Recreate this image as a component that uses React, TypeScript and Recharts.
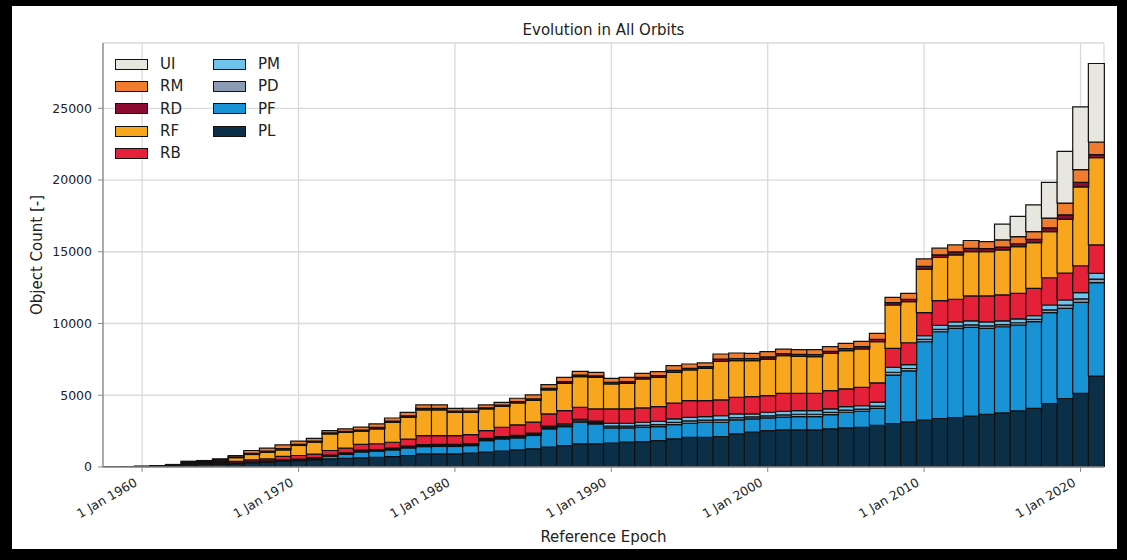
import React from "react";
import { BarChart, Bar, XAxis, YAxis, CartesianGrid, Legend } from "recharts";

// one bar per year, 1958 .. 2021
const years = [
  1958, 1959, 1960, 1961, 1962, 1963, 1964, 1965, 1966, 1967, 1968, 1969, 1970, 1971, 1972, 1973,
  1974, 1975, 1976, 1977, 1978, 1979, 1980, 1981, 1982, 1983, 1984, 1985, 1986, 1987, 1988, 1989,
  1990, 1991, 1992, 1993, 1994, 1995, 1996, 1997, 1998, 1999, 2000, 2001, 2002, 2003, 2004, 2005,
  2006, 2007, 2008, 2009, 2010, 2011, 2012, 2013, 2014, 2015, 2016, 2017, 2018, 2019, 2020, 2021,
];

const PL = [
  2, 6, 18, 40, 70, 170, 180, 200, 230, 300, 350, 400, 450, 500, 570, 600,
  640, 680, 730, 800, 916, 920, 920, 963, 1030, 1100, 1195, 1265, 1380, 1495, 1610, 1610,
  1660, 1730, 1775, 1845, 1960, 2075, 2075, 2125, 2310, 2425, 2540, 2585, 2585, 2590, 2655, 2725,
  2770, 2910, 3030, 3140, 3260, 3380, 3450, 3540, 3665, 3770, 3910, 4080, 4425, 4775, 5135, 6335,
];
const PF = [
  0, 0, 0, 0, 10, 10, 15, 10, 10, 10, 20, 30, 40, 80, 180, 280,
  410, 420, 465, 530, 510, 510, 510, 530, 810, 860, 835, 930, 1275, 1325, 1510, 1390,
  1065, 1000, 1000, 975, 1000, 975, 1045, 995, 975, 930, 880, 885, 930, 925, 1000, 1090,
  1115, 1170, 3375, 3565, 5470, 6045, 6215, 6195, 6000, 6005, 5985, 6045, 6330, 6285, 6335, 6515,
];
const PD = [
  0, 0, 2, 5, 10, 60, 80, 60, 30, 30, 30, 30, 30, 30, 40, 50,
  60, 60, 60, 60, 70, 70, 70, 70, 70, 80, 80, 80, 90, 90, 90, 90,
  120, 120, 130, 140, 150, 160, 150, 170, 160, 140, 150, 160, 160, 160, 150, 150,
  150, 160, 200, 160, 160, 170, 170, 170, 170, 150, 160, 160, 200, 220, 250, 250,
];
const PM = [
  0, 0, 2, 3, 5, 10, 10, 20, 20, 20, 20, 30, 30, 30, 40, 50,
  60, 60, 60, 60, 70, 70, 70, 70, 80, 80, 90, 90, 100, 100, 110, 110,
  200, 200, 215, 230, 245, 255, 245, 295, 255, 205, 245, 255, 255, 255, 245, 245,
  245, 280, 340, 265, 260, 285, 285, 285, 285, 265, 270, 265, 335, 360, 430, 400,
];
const RB = [
  1, 3, 10, 20, 40, 50, 60, 90, 100, 140, 150, 250, 250, 260, 320, 330,
  400, 400, 410, 500, 625, 620, 620, 630, 550, 650, 735, 760, 855, 920, 845, 845,
  1000, 1000, 1000, 1020, 1090, 1160, 1115, 1090, 1160, 1205, 1160, 1250, 1205, 1210, 1275, 1230,
  1275, 1345, 1320, 1530, 1605, 1710, 1570, 1730, 1800, 1800, 1780, 1905, 1900, 1865, 1875, 1980,
];
const RF = [
  0, 0, 8, 15, 25, 70, 70, 100, 260, 370, 460, 450, 700, 830, 1160, 1100,
  930, 1040, 1390, 1510, 1790, 1790, 1620, 1550, 1510, 1460, 1530, 1510, 1670, 1900, 2135, 2205,
  1740, 1785, 2020, 2040, 2155, 2135, 2250, 2690, 2550, 2505, 2550, 2620, 2575, 2550, 2600, 2670,
  2670, 2865, 3025, 2860, 3030, 3010, 3100, 3095, 3095, 3140, 3255, 3185, 3220, 3770, 5500, 6075,
];
const RD = [
  0, 0, 2, 3, 5, 10, 10, 30, 50, 80, 80, 100, 80, 70, 70, 70,
  80, 100, 90, 100, 100, 100, 80, 80, 80, 90, 100, 110, 110, 120, 110, 100,
  110, 115, 110, 115, 130, 120, 110, 150, 150, 150, 150, 140, 140, 150, 140, 150,
  160, 170, 160, 170, 200, 190, 200, 220, 200, 200, 200, 230, 250, 300, 310, 215,
];
const RM = [
  0, 1, 4, 8, 10, 20, 25, 60, 100, 200, 200, 250, 220, 200, 160, 180,
  200, 250, 210, 250, 250, 250, 200, 200, 200, 190, 225, 280, 260, 300, 260, 250,
  285, 300, 280, 280, 335, 300, 260, 360, 385, 360, 360, 325, 325, 335, 325, 360,
  375, 415, 375, 415, 515, 460, 490, 550, 495, 500, 500, 540, 685, 820, 885, 880,
];
const UI = [
  0, 0, 0, 0, 0, 0, 0, 0, 0, 0, 0, 0, 0, 0, 0, 0,
  0, 0, 0, 0, 0, 0, 0, 0, 0, 0, 0, 0, 0, 0, 0, 0,
  0, 0, 0, 0, 0, 0, 0, 0, 0, 0, 0, 0, 0, 0, 0, 0,
  0, 0, 0, 0, 0, 0, 0, 0, 0, 1095, 1400, 1865, 2485, 3605, 4380, 5470,
];

const decadeTicks = [1960, 1970, 1980, 1990, 2000, 2010, 2020];
const countTicks = [0, 5000, 10000, 15000, 20000, 25000];

// stacking order, bottom to top
const series = [
  { key: "PL", values: PL, color: "#0c2f48" },
  { key: "PF", values: PF, color: "#1793d6" },
  { key: "PD", values: PD, color: "#8c9bb4" },
  { key: "PM", values: PM, color: "#6fc4ec" },
  { key: "RB", values: RB, color: "#e52139" },
  { key: "RF", values: RF, color: "#f9a61f" },
  { key: "RD", values: RD, color: "#8d0b30" },
  { key: "RM", values: RM, color: "#ef7c2f" },
  { key: "UI", values: UI, color: "#e7e6df" },
];
const legendColumns = [
  ["UI", "RM", "RD", "RF", "RB"],
  ["PM", "PD", "PF", "PL"],
];

const chartData = years.map((year, i) => {
  const row: Record<string, number> = { year };
  series.forEach((s) => (row[s.key] = s.values[i]));
  return row;
});

const FONT = "'DejaVu Sans', sans-serif";
const SPINE = "#8a8a8a";

const EpochTick = ({ x, y, payload }: any) => {
  const px = x - 4;
  const py = y + 11;
  return (
    <text
      x={px}
      y={py}
      transform={`rotate(-30, ${px}, ${py})`}
      textAnchor="end"
      fontSize={12.5}
      fontFamily={FONT}
      fill="#222"
    >
      {`1 Jan ${payload.value}`}
    </text>
  );
};

const LegendBox = () => (
  <div style={{ display: "flex", fontFamily: FONT, fontSize: 15, color: "#222" }}>
    {legendColumns.map((col, ci) => (
      <div key={ci} style={{ width: ci === 0 ? 98 : 90 }}>
        {col.map((name) => {
          const s = series.find((it) => it.key === name)!;
          return (
            <div key={name} style={{ height: 22.3, display: "flex", alignItems: "center" }}>
              <span
                style={{
                  display: "inline-block",
                  width: 31,
                  height: 9,
                  background: s.color,
                  border: "1.5px solid #111",
                  marginRight: 12,
                }}
              />
              <span>{name}</span>
            </div>
          );
        })}
      </div>
    ))}
  </div>
);

export default function App() {
  return (
    <div style={{ position: "absolute", left: 0, top: 0, width: 1127, height: 560, background: "#000" }}>
      <div style={{ position: "absolute", left: 12, top: 6, width: 1105, height: 543, background: "#fff" }} />
      <div
        style={{
          position: "absolute",
          left: 103,
          width: 1001,
          top: 21,
          textAlign: "center",
          fontFamily: FONT,
          fontSize: 15,
          color: "#222",
        }}
      >
        Evolution in All Orbits
      </div>
      <div
        style={{
          position: "absolute",
          left: 37,
          top: 255,
          transform: "translate(-50%, -50%) rotate(-90deg)",
          whiteSpace: "nowrap",
          fontFamily: FONT,
          fontSize: 15,
          color: "#222",
        }}
      >
        Object Count [-]
      </div>
      <div
        style={{
          position: "absolute",
          left: 103,
          width: 1001,
          top: 528,
          textAlign: "center",
          fontFamily: FONT,
          fontSize: 15,
          color: "#222",
        }}
      >
        Reference Epoch
      </div>
      <div style={{ position: "absolute", left: 0, top: 0 }}>
        <BarChart
          width={1127}
          height={560}
          data={chartData}
          barCategoryGap={0}
          barGap={0}
          margin={{ top: 43, right: 23, left: 43, bottom: 33 }}
        >
          <CartesianGrid xAxisId="epoch" stroke="#dadada" strokeWidth={1.3} />
          <XAxis
            xAxisId="cat"
            dataKey="year"
            type="category"
            hide
            height={0}
            padding={{ left: 0, right: 0 }}
          />
          <XAxis
            xAxisId="epoch"
            dataKey="year"
            type="number"
            domain={[1957.5, 2021.5]}
            allowDataOverflow
            ticks={decadeTicks}
            tick={<EpochTick />}
            tickSize={5}
            tickLine={{ stroke: SPINE }}
            axisLine={{ stroke: SPINE, strokeWidth: 1.3 }}
            height={60}
          />
          <XAxis
            xAxisId="top"
            orientation="top"
            type="number"
            dataKey="year"
            domain={[1957.5, 2021.5]}
            allowDataOverflow
            tick={false}
            tickLine={false}
            axisLine={{ stroke: SPINE, strokeWidth: 1.3 }}
            height={0}
          />
          <YAxis
            type="number"
            domain={[0, 29550]}
            allowDataOverflow
            ticks={countTicks}
            width={60}
            tickSize={5}
            tickMargin={6}
            tickLine={{ stroke: SPINE }}
            axisLine={{ stroke: SPINE, strokeWidth: 1.3 }}
            tick={{ fontSize: 12.5, fontFamily: FONT, fill: "#222" }}
          />
          <YAxis
            yAxisId="right"
            orientation="right"
            type="number"
            domain={[0, 1]}
            width={0}
            tick={false}
            tickLine={false}
            axisLine={{ stroke: SPINE, strokeWidth: 1.3 }}
          />
          {series.map((s) => (
            <Bar
              key={s.key}
              dataKey={s.key}
              stackId="orbits"
              xAxisId="cat"
              fill={s.color}
              stroke="#111"
              strokeWidth={1.2}
              isAnimationActive={false}
            />
          ))}
          <Legend
            layout="horizontal"
            verticalAlign="middle"
            align="center"
            content={<LegendBox />}
            wrapperStyle={{ position: "absolute", left: 115, top: 53, width: 200 }}
          />
        </BarChart>
      </div>
    </div>
  );
}
